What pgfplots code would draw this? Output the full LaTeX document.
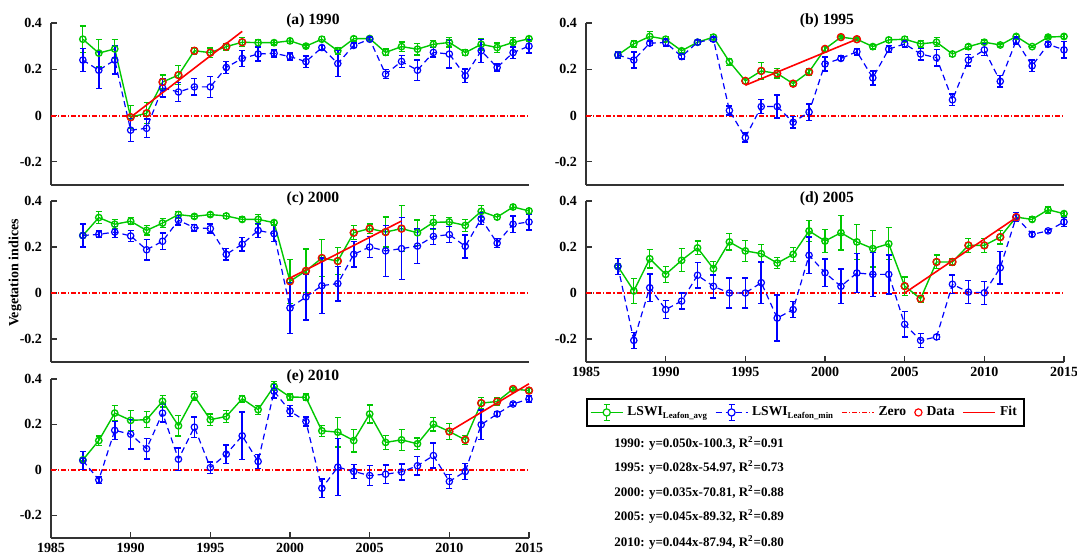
\documentclass[border=0pt]{standalone}
\usepackage{pgfplots}
\pgfplotsset{compat=1.18}
\usepackage{pgfplotstable}
\usepackage{fontspec}
\setmainfont{Liberation Serif}
\definecolor{mygreen}{RGB}{0,200,0}
\definecolor{myblue}{RGB}{0,0,255}
\definecolor{myred}{RGB}{255,0,0}

\pgfplotstableread{
year g ge b be
1987 0.330 0.057 0.240 0.050
1988 0.270 0.060 0.196 0.080
1989 0.288 0.040 0.240 0.060
1990 -0.007 0.050 -0.063 0.050
1991 0.010 0.045 -0.055 0.040
1992 0.145 0.030 0.120 0.040
1993 0.175 0.040 0.102 0.040
1994 0.280 0.015 0.124 0.035
1995 0.272 0.020 0.124 0.045
1996 0.298 0.015 0.208 0.025
1997 0.317 0.020 0.247 0.035
1998 0.315 0.015 0.266 0.030
1999 0.315 0.010 0.269 0.015
2000 0.323 0.010 0.255 0.015
2001 0.300 0.008 0.233 0.025
2002 0.330 0.010 0.294 0.010
2003 0.280 0.015 0.225 0.055
2004 0.332 0.010 0.303 0.010
2005 0.333 0.010 0.330 0.010
2006 0.273 0.015 0.179 0.020
2007 0.298 0.020 0.234 0.025
2008 0.287 0.025 0.196 0.045
2009 0.308 0.015 0.273 0.020
2010 0.316 0.020 0.266 0.060
2011 0.272 0.012 0.172 0.030
2012 0.308 0.025 0.280 0.050
2013 0.294 0.020 0.208 0.015
2014 0.316 0.020 0.272 0.025
2015 0.332 0.010 0.300 0.030
}\tA

\pgfplotstableread{
year g ge b be
1987 0.262 0.010 0.262 0.015
1988 0.310 0.015 0.240 0.035
1989 0.342 0.020 0.313 0.010
1990 0.330 0.010 0.316 0.015
1991 0.280 0.010 0.255 0.010
1992 0.317 0.010 0.317 0.010
1993 0.339 0.010 0.330 0.010
1994 0.233 0.015 0.022 0.020
1995 0.150 0.010 -0.095 0.020
1996 0.193 0.035 0.039 0.030
1997 0.182 0.020 0.039 0.050
1998 0.138 0.010 -0.029 0.025
1999 0.189 0.015 0.015 0.035
2000 0.288 0.010 0.223 0.030
2001 0.339 0.005 0.247 0.010
2002 0.330 0.005 0.276 0.015
2003 0.298 0.010 0.163 0.030
2004 0.327 0.010 0.287 0.015
2005 0.330 0.010 0.310 0.015
2006 0.310 0.015 0.266 0.025
2007 0.317 0.020 0.250 0.035
2008 0.266 0.010 0.068 0.025
2009 0.298 0.010 0.240 0.025
2010 0.317 0.010 0.284 0.025
2011 0.305 0.005 0.148 0.025
2012 0.342 0.010 0.324 0.015
2013 0.298 0.005 0.215 0.025
2014 0.339 0.005 0.308 0.010
2015 0.342 0.010 0.284 0.035
}\tB

\pgfplotstableread{
year g ge b be
1987 0.250 0.010 0.250 0.050
1988 0.328 0.025 0.255 0.015
1989 0.299 0.020 0.265 0.025
1990 0.312 0.015 0.248 0.025
1991 0.272 0.020 0.188 0.045
1992 0.304 0.020 0.225 0.035
1993 0.341 0.015 0.316 0.020
1994 0.333 0.010 0.284 0.015
1995 0.341 0.010 0.280 0.020
1996 0.335 0.010 0.168 0.025
1997 0.320 0.010 0.212 0.030
1998 0.320 0.020 0.272 0.030
1999 0.306 0.010 0.258 0.035
2000 0.051 0.095 -0.065 0.110
2001 0.096 0.095 -0.017 0.100
2002 0.152 0.080 0.032 0.120
2003 0.139 0.060 0.041 0.075
2004 0.262 0.030 0.168 0.055
2005 0.280 0.020 0.200 0.045
2006 0.265 0.065 0.183 0.110
2007 0.280 0.100 0.193 0.135
2008 0.262 0.055 0.204 0.075
2009 0.307 0.030 0.246 0.035
2010 0.309 0.020 0.254 0.035
2011 0.294 0.025 0.203 0.050
2012 0.355 0.025 0.323 0.025
2013 0.330 0.010 0.217 0.020
2014 0.374 0.010 0.299 0.035
2015 0.357 0.010 0.309 0.035
}\tC

\pgfplotstableread{
year g ge b be
1987 0.116 0.005 0.116 0.035
1988 0.009 0.055 -0.206 0.035
1989 0.149 0.040 0.023 0.060
1990 0.081 0.035 -0.072 0.040
1991 0.142 0.050 -0.035 0.035
1992 0.196 0.030 0.077 0.055
1993 0.106 0.030 0.029 0.050
1994 0.222 0.035 0.000 0.065
1995 0.183 0.045 0.000 0.065
1996 0.171 0.040 0.045 0.090
1997 0.130 0.025 -0.109 0.100
1998 0.168 0.030 -0.072 0.035
1999 0.270 0.045 0.164 0.080
2000 0.226 0.050 0.088 0.060
2001 0.262 0.075 0.029 0.075
2002 0.222 0.075 0.087 0.085
2003 0.193 0.080 0.081 0.095
2004 0.214 0.070 0.081 0.085
2005 0.030 0.040 -0.136 0.055
2006 -0.025 0.015 -0.206 0.030
2007 0.135 0.030 -0.191 0.010
2008 0.135 0.015 0.038 0.040
2009 0.207 0.030 0.004 0.050
2010 0.207 0.030 0.001 0.050
2011 0.243 0.030 0.110 0.070
2012 0.330 0.020 0.330 0.020
2013 0.320 0.010 0.255 0.010
2014 0.362 0.015 0.270 0.007
2015 0.345 0.010 0.309 0.020
}\tD

\pgfplotstableread{
year g ge b be
1987 0.044 0.005 0.041 0.040
1988 0.129 0.020 -0.044 0.015
1989 0.250 0.035 0.174 0.040
1990 0.218 0.045 0.157 0.065
1991 0.221 0.035 0.093 0.045
1992 0.302 0.025 0.250 0.040
1993 0.194 0.045 0.047 0.050
1994 0.324 0.020 0.188 0.045
1995 0.221 0.025 0.010 0.025
1996 0.235 0.025 0.069 0.040
1997 0.313 0.015 0.150 0.105
1998 0.265 0.020 0.037 0.030
1999 0.368 0.020 0.346 0.030
2000 0.321 0.015 0.259 0.025
2001 0.319 0.015 0.213 0.020
2002 0.172 0.025 -0.081 0.040
2003 0.166 0.065 0.012 0.125
2004 0.129 0.050 -0.007 0.030
2005 0.246 0.040 -0.025 0.045
2006 0.121 0.030 -0.019 0.040
2007 0.132 0.045 -0.009 0.035
2008 0.115 0.025 0.018 0.040
2009 0.201 0.030 0.063 0.055
2010 0.169 0.035 -0.051 0.030
2011 0.132 0.020 -0.007 0.035
2012 0.294 0.025 0.199 0.065
2013 0.301 0.015 0.246 0.010
2014 0.356 0.008 0.290 0.007
2015 0.349 0.010 0.312 0.015
}\tE

\tikzset{zeroline/.style={myred, line width=1pt, dash pattern=on 2.5pt off 1pt on 0.6pt off 1pt}}
\newcommand\subs[1]{\raisebox{-1.3pt}{\fontsize{4.4}{5}\selectfont #1}}

\pgfplotsset{
  panel/.style={scale only axis, width=239pt, xmin=1985, xmax=2015, ymin=-0.3, ymax=0.4,
    axis x line*=bottom, axis y line*=left, tick align=inside,
    axis line style={-, black!80, line width=0.6pt},
    ytick={-0.2,0,0.2,0.4}, yticklabels={-0.2,0,0.2,0.4},
    xtick=\empty,
    tick style={black!80, line width=0.6pt}, major tick length=3pt,
    ticklabel style={font=\fontsize{7}{8}\selectfont\bfseries},
    yticklabel style={xshift=-1pt},
    xticklabel style={yshift=1pt},
    title style={font=\fontsize{7.8}{9}\selectfont\bfseries, anchor=center, yshift=-5pt},
    clip=false},
  xlab/.style={xtick={1985,1990,1995,2000,2005,2010,2015},
    xticklabels={1985,1990,1995,2000,2005,2010,2015}},
  greenplot/.style={mygreen, line width=0.7pt, mark=o, mark size=1.6pt, mark options={solid},
    error bars/.cd, y dir=both, y explicit,
    error bar style={line width=0.6pt, solid},
    error mark options={rotate=90, mark size=1.5pt, line width=0.6pt, solid}},
  blueplot/.style={myblue, line width=0.6pt, dash pattern=on 3pt off 2pt, mark=o, mark size=1.6pt, mark options={solid},
    error bars/.cd, y dir=both, y explicit,
    error bar style={line width=0.8pt, solid},
    error mark options={rotate=90, mark size=1.5pt, line width=0.7pt, solid}},
}

\newcommand\panelplots[4]{%
  \addplot[zeroline, forget plot] coordinates {(1985,0) (2015,0)};
  \addplot[forget plot, greenplot] table[x=year, y=g, y error=ge]{#1};
  \addplot[forget plot, blueplot] table[x=year, y=b, y error=be]{#1};
  \addplot[myred, line width=0.8pt, forget plot] coordinates {#4};
  \addplot[only marks, mark=o, myred, mark size=1.8pt, line width=0.6pt,
    restrict x to domain=#2:#3, forget plot] table[x=year, y=g]{#1};
}

\begin{document}
\begin{tikzpicture}
\path[use as bounding box] (0,0) rectangle (538.5pt,277pt);

% (a)
\begin{axis}[panel, at={(25.5pt,184.5pt)}, anchor=south west, height=81pt,
  title={(a) 1990}, title style={at={(0.548,1)}}]
\panelplots{\tA}{1990}{1997}{(1990,-0.007) (1997,0.364)}
\end{axis}

% (b)
\begin{axis}[panel, at={(293pt,184.5pt)}, anchor=south west, height=81pt,
  title={(b) 1995}, title style={at={(0.504,1)}}]
\panelplots{\tB}{1995}{2002}{(1995,0.131) (2002,0.330)}
\end{axis}

% (c)
\begin{axis}[panel, at={(25.5pt,96pt)}, anchor=south west, height=80.5pt,
  title={(c) 2000}, title style={at={(0.548,1)}}]
\panelplots{\tC}{2000}{2007}{(2000,0.065) (2007,0.313)}
\end{axis}

% (d)
\begin{axis}[panel, xlab, at={(293pt,96pt)}, anchor=south west, height=80.5pt,
  title={(d) 2005}, title style={at={(0.504,1)}},
  legend columns=5,
  legend style={at={(0,-0.225)}, anchor=north west, draw=black, line width=0.8pt,
    font=\fontsize{6.8}{8}\selectfont\bfseries, inner sep=1.6pt,
    /tikz/every even column/.append style={column sep=2pt},
    /tikz/every odd column/.append style={column sep=0pt}}]
\panelplots{\tD}{2005}{2012}{(2005,0.0) (2012,0.328)}
\addlegendimage{legend image code/.code={
  \draw[mygreen, line width=0.7pt] (0pt,0pt) -- (16pt,0pt);
  \draw[mygreen, line width=0.6pt] (8pt,-4pt) -- (8pt,4pt) (6.5pt,-4pt) -- (9.5pt,-4pt) (6.5pt,4pt) -- (9.5pt,4pt);
  \draw[mygreen, line width=0.6pt, fill=white] (8pt,0pt) circle (1.8pt);}}
\addlegendentry{LSWI\subs{Leafon\_avg}}
\addlegendimage{legend image code/.code={
  \draw[myblue, line width=0.6pt, dash pattern=on 3pt off 2pt] (0pt,0pt) -- (16pt,0pt);
  \draw[myblue, line width=0.8pt] (8pt,-4pt) -- (8pt,4pt) (6.5pt,-4pt) -- (9.5pt,-4pt) (6.5pt,4pt) -- (9.5pt,4pt);
  \draw[myblue, line width=0.6pt, fill=white] (8pt,0pt) circle (1.8pt);}}
\addlegendentry{LSWI\subs{Leafon\_min}}
\addlegendimage{legend image code/.code={
  \draw[zeroline, line width=0.7pt] (0pt,0pt) -- (16pt,0pt);}}
\addlegendentry{Zero}
\addlegendimage{legend image code/.code={
  \draw[myred, line width=0.6pt] (8pt,0pt) circle (1.8pt);}}
\addlegendentry{Data}
\addlegendimage{legend image code/.code={
  \draw[myred, line width=0.8pt] (0pt,0pt) -- (16pt,0pt);}}
\addlegendentry{Fit}
\end{axis}

% (e)
\begin{axis}[panel, xlab, at={(25.5pt,8pt)}, anchor=south west, height=79.5pt,
  title={(e) 2010}, title style={at={(0.548,1)}}]
\panelplots{\tE}{2010}{2015}{(2010,0.169) (2015,0.379)}
\end{axis}

\node[rotate=90, font=\fontsize{7}{8}\selectfont\bfseries] at (7.5pt,140.5pt) {Vegetation indices};

\begin{scope}[every node/.style={anchor=west, font=\fontsize{6.5}{8}\selectfont\bfseries, inner sep=0pt}]
\node at (307pt,55.5pt) {1990: y=0.050x-100.3, R\textsuperscript{2}=0.91};
\node at (307pt,43.5pt) {1995: y=0.028x-54.97, R\textsuperscript{2}=0.73};
\node at (307pt,31pt) {2000: y=0.035x-70.81, R\textsuperscript{2}=0.88};
\node at (307pt,19pt) {2005: y=0.045x-89.32, R\textsuperscript{2}=0.89};
\node at (307pt,6pt) {2010: y=0.044x-87.94, R\textsuperscript{2}=0.80};
\end{scope}
\end{tikzpicture}
\end{document}
